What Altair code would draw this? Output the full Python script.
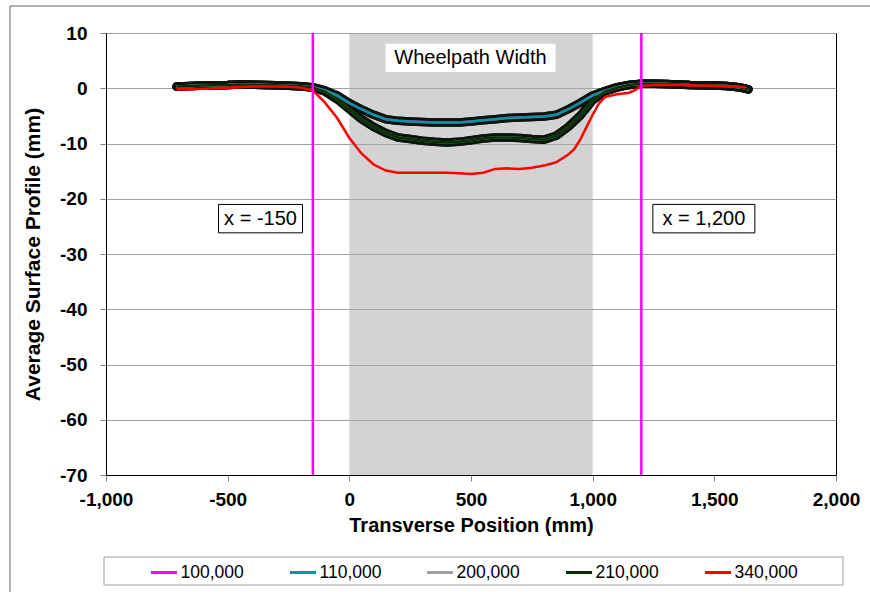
import altair as alt
import pandas as pd

FONT = "Liberation Sans"

# ---------------- data ----------------
series_names = ["100,000", "110,000", "200,000", "210,000", "340,000"]
series_colors = ["#ff00ff", "#009999", "#a0a0a0", "#003300", "#ff0000"]

x_marker = [-710, -650, -600, -550, -500, -450, -400, -350, -300, -250, -200, -150,
            -100, -50, 0, 50, 100, 150, 200, 250, 300, 350, 400, 450, 500, 550, 600,
            650, 700, 750, 800, 850, 900, 950, 1000, 1050, 1100, 1150, 1200, 1250,
            1300, 1350, 1400, 1450, 1500, 1550, 1600, 1640]

y_100k = [0.3, 0.4, 0.5, 0.55, 0.6, 0.7, 0.65, 0.6, 0.55, 0.45, 0.35, 0.2,
          -0.4, -1.3, -2.7, -3.8, -4.8, -5.6, -5.9, -6.0, -6.1, -6.2, -6.2, -6.2, -6.0, -5.8, -5.6,
          -5.4, -5.3, -5.2, -5.1, -4.8, -3.8, -2.6, -1.3, -0.5, 0.2, 0.6, 0.8, 0.8,
          0.75, 0.7, 0.6, 0.55, 0.5, 0.4, 0.2, -0.2]
y_110k = [0.3, 0.4, 0.5, 0.55, 0.6, 0.7, 0.65, 0.6, 0.55, 0.45, 0.35, 0.2,
          -0.4, -1.3, -2.7, -3.8, -4.8, -5.6, -5.9, -6.0, -6.1, -6.2, -6.2, -6.2, -6.0, -5.8, -5.6,
          -5.4, -5.3, -5.2, -5.1, -4.8, -3.8, -2.6, -1.3, -0.5, 0.2, 0.6, 0.8, 0.8,
          0.75, 0.7, 0.6, 0.55, 0.5, 0.4, 0.2, -0.2]
y_200k = [0.3, 0.4, 0.5, 0.55, 0.6, 0.7, 0.65, 0.6, 0.55, 0.45, 0.35, 0.1,
          -0.6, -2.0, -3.8, -5.6, -7.0, -8.1, -8.9, -9.2, -9.5, -9.7, -9.8, -9.7, -9.4, -9.1, -8.9,
          -8.9, -9.0, -9.2, -9.3, -8.6, -7.0, -4.9, -2.2, -0.6, 0.1, 0.6, 0.8, 0.8,
          0.75, 0.7, 0.6, 0.55, 0.5, 0.4, 0.2, -0.2]
y_210k = [0.3, 0.4, 0.5, 0.55, 0.6, 0.7, 0.65, 0.6, 0.55, 0.45, 0.35, 0.1,
          -0.6, -2.0, -3.8, -5.6, -7.0, -8.1, -8.9, -9.2, -9.5, -9.7, -9.8, -9.7, -9.4, -9.1, -8.9,
          -8.9, -9.0, -9.2, -9.3, -8.6, -7.0, -4.9, -2.2, -0.6, 0.1, 0.6, 0.8, 0.8,
          0.75, 0.7, 0.6, 0.55, 0.5, 0.4, 0.2, -0.2]

x_340k = [-710, -650, -600, -550, -500, -450, -400, -350, -300, -250, -200, -150,
          -100, -50, 0, 50, 100, 150, 200, 250, 300, 350, 400, 450, 500, 550, 600,
          650, 700, 750, 800, 850, 900, 925, 950, 975, 1000, 1025, 1050, 1100, 1150,
          1175, 1200, 1250, 1300, 1350, 1400, 1450, 1500, 1550, 1600, 1630]
y_340k = [-0.2, -0.2, -0.1, 0.0, 0.1, 0.2, 0.3, 0.3, 0.3, 0.25, 0.1, -0.4,
          -2.6, -5.4, -9.0, -11.8, -13.8, -14.9, -15.3, -15.3, -15.3, -15.3, -15.3, -15.4, -15.5, -15.3, -14.6,
          -14.5, -14.6, -14.4, -14.0, -13.4, -12.0, -11.0, -9.2, -7.0, -4.8, -2.8, -1.6, -1.1, -0.8,
          -0.3, 0.4, 0.6, 0.65, 0.6, 0.55, 0.5, 0.45, 0.35, 0.25, 0.2]

wheelpath_start = [0]
wheelpath_end = [1000]
marker_positions = [-150, 1200]

ann_text = ["Wheelpath Width", "x = -150", "x = 1,200"]
ann_x = [498, -365, 1457]
ann_y = [5.5, -23.6, -23.6]

# ---------------- tables ----------------
rows = []
for name, xs_, ys_ in [("100,000", x_marker, y_100k), ("110,000", x_marker, y_110k),
                       ("200,000", x_marker, y_200k), ("210,000", x_marker, y_210k),
                       ("340,000", x_340k, y_340k)]:
    for i, (a, b) in enumerate(zip(xs_, ys_)):
        rows.append({"series": name, "x": a, "y": b, "order": i})
df = pd.DataFrame(rows)
df_band = df[df["series"] != "340,000"]

shade_df = pd.DataFrame({"x": wheelpath_start, "xe": wheelpath_end})
rule_df = pd.DataFrame({"x": marker_positions})
ann_df = pd.DataFrame({"text": ann_text, "x": ann_x, "y": ann_y})
one = pd.DataFrame({"k": [0]})

# ---------------- scales & axes ----------------
xs = alt.Scale(domain=[-1000, 2000], nice=False, zero=False)
ys = alt.Scale(domain=[-70, 10], nice=False, zero=False)

fix_minus = "replace(format(datum.value, ','), '\u2212', '-')"

xaxis = alt.Axis(
    title="Transverse Position (mm)", values=[-1000, -500, 0, 500, 1000, 1500, 2000],
    labelExpr=fix_minus, grid=False, tickSize=6, tickColor="#808080",
    domainColor="black", labelFont=FONT, labelFontSize=19, labelFontWeight="bold",
    labelColor="black", labelPadding=9, labelFlush=False, labelOverlap=False,
    titleFont=FONT, titleFontSize=20, titleFontWeight="bold", titleColor="black",
    titlePadding=6,
)
yaxis = alt.Axis(
    title="Average Surface Profile (mm)", values=list(range(-70, 11, 10)),
    labelExpr=fix_minus, grid=True, gridColor="#a0a0a0", gridWidth=1,
    tickSize=6, tickColor="#808080", domainColor="black",
    labelFont=FONT, labelFontSize=19, labelFontWeight="bold", labelColor="black",
    labelPadding=13, labelFlush=False, labelOverlap=False,
    titleFont=FONT, titleFontSize=21, titleFontWeight="bold", titleColor="black",
    titlePadding=16,
)


def X(f="x"):
    return alt.X(f"{f}:Q", scale=xs, axis=xaxis)


def Y(f="y"):
    return alt.Y(f"{f}:Q", scale=ys, axis=yaxis)


# ---------------- layers ----------------
shade = alt.Chart(shade_df).mark_rect(fill="#a8a8a8", opacity=0.5).encode(
    x=X("x"), x2="xe:Q", y=alt.value(0), y2=alt.value(442)
)

bands = alt.Chart(df_band).mark_line(strokeWidth=8.5, color="#0c140e", strokeCap="round",
                                     strokeJoin="round").encode(
    x=X(), y=Y(), detail="series:N", order="order:Q"
)

lines = alt.Chart(df).mark_line(strokeWidth=2.5).encode(
    x=X(), y=Y(), order="order:Q",
    color=alt.Color(
        "series:N",
        scale=alt.Scale(domain=series_names, range=series_colors),
        legend=alt.Legend(
            title=None, orient="none", legendX=43.5, legendY=525, direction="horizontal",
            columns=5, symbolType="stroke", symbolSize=676, symbolStrokeWidth=3,
            labelFont=FONT, labelFontSize=17.5, labelColor="black", labelOffset=2,
            columnPadding=39, padding=0, labelLimit=200,
        ),
    ),
)

rules = alt.Chart(rule_df).mark_rule(color="#ff00ff", strokeWidth=2.5).encode(x=X())

wp_box = alt.Chart(ann_df[ann_df["text"] == "Wheelpath Width"]).mark_point(
    shape="M-1,-0.165L1,-0.165L1,0.165L-1,0.165Z", size=170 * 170, filled=True,
    fill="white", opacity=1, strokeWidth=0,
).encode(x=X(), y=Y())

b1 = alt.Chart(ann_df[ann_df["text"] == "x = -150"]).mark_point(
    shape="M-1,-0.338L1,-0.338L1,0.338L-1,0.338Z", size=84 * 84, filled=False,
    fill="white", fillOpacity=1, stroke="black", strokeWidth=1, opacity=1,
).encode(x=X(), y=Y())

b2 = alt.Chart(ann_df[ann_df["text"] == "x = 1,200"]).mark_point(
    shape="M-1,-0.279L1,-0.279L1,0.279L-1,0.279Z", size=102 * 102, filled=False,
    fill="white", fillOpacity=1, stroke="black", strokeWidth=1, opacity=1,
).encode(x=X(), y=Y())

texts = alt.Chart(ann_df).mark_text(
    font=FONT, fontSize=20, color="black", align="center", baseline="middle"
).encode(x=X(), y=Y(), text="text:N")

legend_box = alt.Chart(one).mark_rect(fill="white", fillOpacity=0, stroke="#a0a0a0",
                                      strokeWidth=1).encode(
    x=alt.value(-2), x2=alt.value(737), y=alt.value(524), y2=alt.value(552)
)

outer = alt.Chart(one).mark_rect(fillOpacity=0, fill="white", stroke="#666666",
                                 strokeWidth=1).encode(
    x=alt.value(-96), x2=alt.value(900), y=alt.value(-27), y2=alt.value(700)
)

chart = alt.layer(
    shade, bands, lines, rules, wp_box, b1, b2, texts, legend_box, outer
).properties(
    width=730, height=442,
    autosize=alt.AutoSizeParams(type="none"),
    padding={"left": 106, "top": 33, "right": 34, "bottom": 117},
    background="white",
).configure_view(stroke="black", strokeWidth=1)

chart.save("out.html", embed_options={"renderer": "svg", "actions": False})
